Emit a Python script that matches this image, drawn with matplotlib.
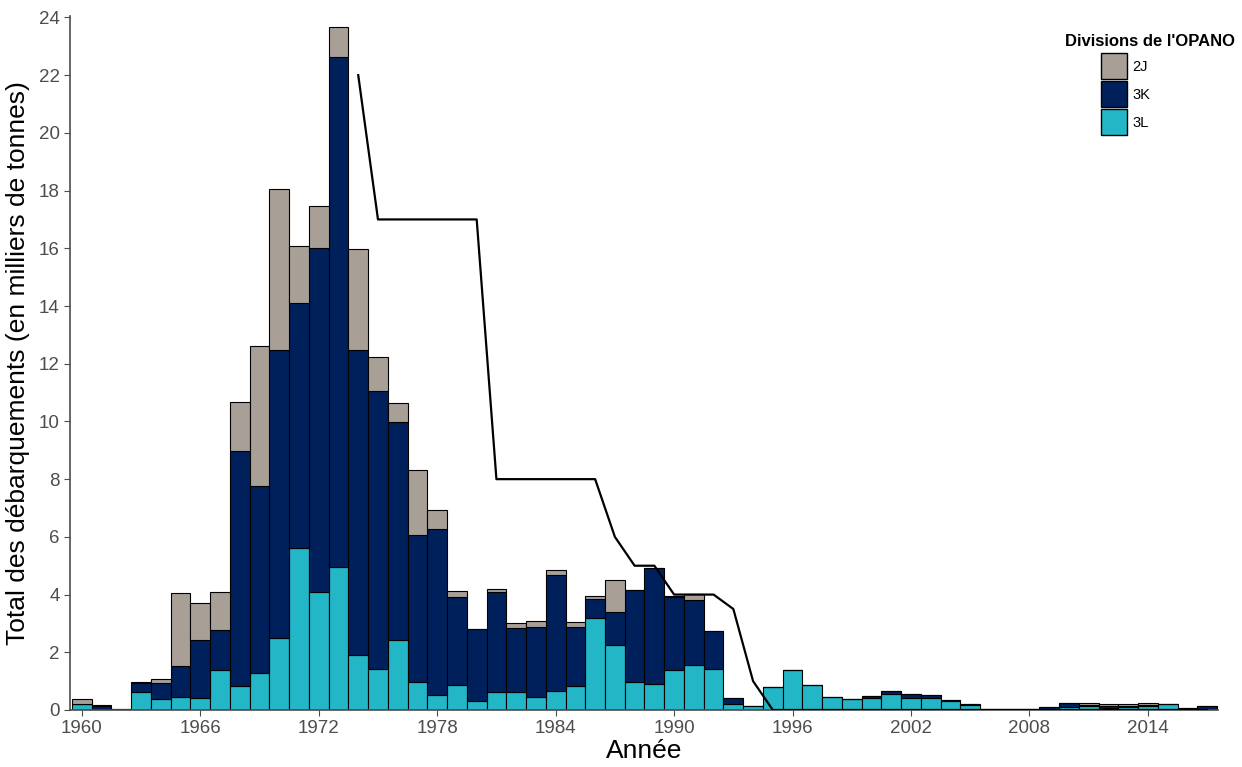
import numpy as np
import matplotlib
matplotlib.use("Agg")
import matplotlib.pyplot as plt
from matplotlib.patches import Patch

plt.rcParams['font.family'] = ['Liberation Sans', 'DejaVu Sans']

# landings by NAFO division (thousand tonnes)
years = list(range(1960, 2018))
div_3L = [0.20, 0.02, 0.00, 0.64, 0.39, 0.46, 0.43, 1.40, 0.84, 1.27,
          2.49, 5.60, 4.10, 4.97, 1.91, 1.41, 2.42, 0.96, 0.51, 0.88,
          0.30, 0.63, 0.63, 0.46, 0.66, 0.84, 3.20, 2.25, 0.97, 0.91,
          1.40, 1.55, 1.43, 0.21, 0.14, 0.79, 1.38, 0.86, 0.44, 0.37,
          0.43, 0.57, 0.43, 0.43, 0.31, 0.16, 0.00, 0.00, 0.00, 0.00,
          0.12, 0.13, 0.08, 0.12, 0.13, 0.20, 0.00, 0.05]
div_3K = [0.00, 0.12, 0.05, 0.30, 0.55, 1.06, 1.99, 1.37, 8.12, 6.50,
          9.98, 8.50, 11.92, 17.66, 10.58, 9.64, 7.56, 5.12, 5.77, 3.04,
          2.50, 3.47, 2.21, 2.43, 4.02, 2.02, 0.63, 1.15, 3.20, 4.00,
          2.53, 2.25, 1.30, 0.21, 0.00, 0.00, 0.00, 0.00, 0.00, 0.00,
          0.06, 0.08, 0.12, 0.09, 0.02, 0.05, 0.03, 0.03, 0.04, 0.10,
          0.12, 0.05, 0.06, 0.02, 0.04, 0.02, 0.08, 0.08]
div_2J = [0.17, 0.02, 0.00, 0.02, 0.13, 2.55, 1.29, 1.33, 1.73, 4.86,
          5.60, 1.99, 1.44, 1.05, 3.50, 1.19, 0.66, 2.25, 0.64, 0.19,
          0.02, 0.10, 0.16, 0.21, 0.16, 0.19, 0.11, 1.10, 0.00, 0.00,
          0.03, 0.21, 0.00, 0.00, 0.00, 0.00, 0.00, 0.00, 0.00, 0.00,
          0.00, 0.00, 0.00, 0.00, 0.00, 0.00, 0.00, 0.00, 0.00, 0.00,
          0.01, 0.07, 0.06, 0.06, 0.08, 0.00, 0.00, 0.00]

# TAC line
tac_years = list(range(1974, 2018))
tac = [22, 17, 17, 17, 17, 17, 17, 8, 8, 8, 8, 8, 8, 6, 5, 5, 4, 4, 4, 3.5, 1, 0,
       0, 0, 0, 0, 0, 0, 0, 0, 0, 0, 0, 0, 0, 0, 0, 0, 0, 0, 0, 0, 0, 0]

tick_years = [1960, 1966, 1972, 1978, 1984, 1990, 1996, 2002, 2008, 2014]
y_ticks = list(range(0, 25, 2))

col_2J = '#a89f97'
col_3K = '#00205b'
col_3L = '#23b6c6'

fig = plt.figure(figsize=(12.42, 7.67), dpi=100)
ax = fig.add_axes([70 / 1242, 1 - 710 / 767, 1148 / 1242, (710 - 16) / 767])

x = np.array(years)
l3 = np.array(div_3L)
k3 = np.array(div_3K)
j2 = np.array(div_2J)
kw = dict(width=1.0, edgecolor='black', linewidth=0.8, align='center')
ax.bar(x, l3, color=col_3L, **kw)
ax.bar(x, k3, bottom=l3, color=col_3K, **kw)
ax.bar(x, j2, bottom=l3 + k3, color=col_2J, **kw)

ax.plot(tac_years, tac, color='black', linewidth=1.6, zorder=3)

ax.set_xlim(1959.4, 2017.55)
ax.set_ylim(0, 24.05)
ax.set_xticks(tick_years)
ax.set_yticks(y_ticks)
ax.tick_params(axis='both', colors='#4d4d4d', labelsize=13.5, length=4, width=0.8)
for side in ['top', 'right']:
    ax.spines[side].set_visible(False)
for side in ['left', 'bottom']:
    ax.spines[side].set_color('#4d4d4d')
    ax.spines[side].set_linewidth(1.2)

ax.set_xlabel('Année', fontsize=19, labelpad=1)
ax.set_ylabel('Total des débarquements (en milliers de tonnes)', fontsize=19, labelpad=6)

fig.text(1065 / 1242, 1 - 42 / 767, "Divisions de l'OPANO", fontsize=12,
         fontweight='bold', va='center', ha='left')
handles = [Patch(facecolor=col_2J, edgecolor='black', label='2J'),
           Patch(facecolor=col_3K, edgecolor='black', label='3K'),
           Patch(facecolor=col_3L, edgecolor='black', label='3L')]
fig.legend(handles=handles, loc='upper left', bbox_to_anchor=(1101 / 1242, 1 - 53 / 767),
           frameon=False, fontsize=10.5, handlelength=1.8, handleheight=2.4,
           labelspacing=0.12, handletextpad=0.35, borderaxespad=0, borderpad=0)

fig.savefig('out.png', dpi=100)
